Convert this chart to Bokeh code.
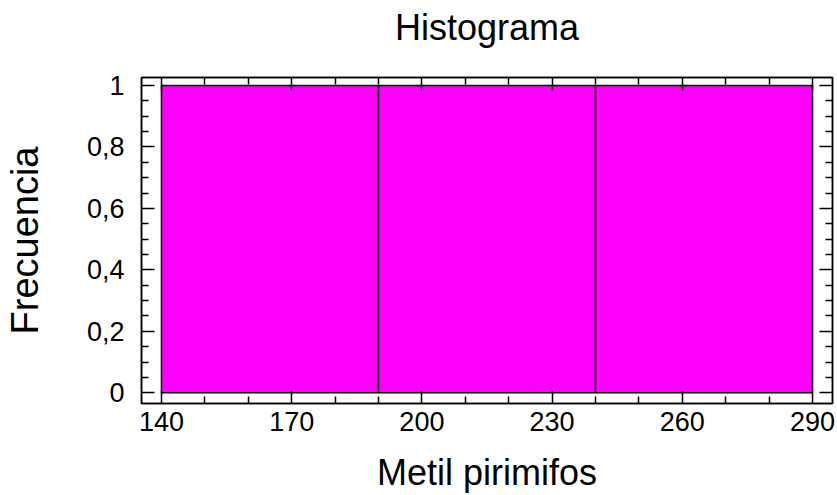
from bokeh.plotting import figure
from bokeh.models import Range1d, LinearAxis, FixedTicker, CustomJSTickFormatter
from bokeh.embed import file_html
from bokeh.resources import INLINE

# Data
bin_left = [140, 190, 240]
bin_right = [190, 240, 290]
counts = [1, 1, 1]

x_major = [140, 170, 200, 230, 260, 290]
x_minor = [150, 160, 180, 190, 210, 220, 240, 250, 270, 280]
y_major = [0, 0.2, 0.4, 0.6, 0.8, 1.0]
y_minor = [0.05, 0.1, 0.15, 0.25, 0.3, 0.35, 0.45, 0.5, 0.55, 0.65, 0.7, 0.75, 0.85, 0.9, 0.95]

TITLE = "Histograma"
FONT = "Liberation Sans"

p = figure(width=837, height=495, output_backend="svg", toolbar_location=None,
           x_range=Range1d(135.4, 294.6), y_range=Range1d(-0.035, 1.026),
           min_border_left=140, min_border_right=5, min_border_top=77, min_border_bottom=90,
           x_axis_location=None, y_axis_location=None)
p.grid.visible = False
p.outline_line_color = "black"
p.outline_line_width = 1.5
p.background_fill_color = "white"
p.border_fill_color = "white"

p.quad(left=bin_left, right=bin_right, top=counts, bottom=[0] * len(counts),
       fill_color="#FF00FF", line_color="black", line_width=1.5)

fmt_y = CustomJSTickFormatter(code="var s = (Math.round(tick*10)/10).toString(); return s.replace('.', ',');")
blank = CustomJSTickFormatter(code="return '';")

def style(ax):
    ax.axis_line_color = "black"
    ax.axis_line_width = 1.5
    ax.major_tick_line_color = "black"
    ax.major_tick_line_width = 1.5
    ax.minor_tick_line_color = "black"
    ax.minor_tick_line_width = 1.5
    ax.major_tick_in = 13
    ax.major_tick_out = 0
    ax.minor_tick_in = 7
    ax.minor_tick_out = 0
    ax.major_label_text_font = FONT
    ax.major_label_text_font_size = "27px"
    ax.major_label_text_color = "black"
    ax.axis_label_text_font = FONT
    ax.axis_label_text_font_size = "36px"
    ax.axis_label_text_font_style = "normal"
    ax.axis_label_text_color = "black"

xt = FixedTicker(ticks=x_major, minor_ticks=x_minor)
yt = FixedTicker(ticks=y_major, minor_ticks=y_minor)

xb = LinearAxis(ticker=xt, axis_label="Metil pirimifos")
style(xb)
xb.major_label_standoff = 8
xb.axis_label_standoff = 18
p.add_layout(xb, "below")

# top axis carries the chart title as its label
xa = LinearAxis(ticker=xt, formatter=blank, axis_label=TITLE)
style(xa)
xa.major_label_text_font_size = "0px"
xa.major_label_standoff = 0
xa.axis_label_standoff = 30
p.add_layout(xa, "above")

yl = LinearAxis(ticker=yt, formatter=fmt_y, axis_label="Frecuencia")
style(yl)
yl.axis_label_text_font_size = "38px"
yl.major_label_standoff = 17
yl.axis_label_standoff = 38
p.add_layout(yl, "left")

yr = LinearAxis(ticker=yt, formatter=blank)
style(yr)
yr.major_label_text_font_size = "0px"
yr.major_label_standoff = 0
p.add_layout(yr, "right")

open("out.html", "w").write(file_html(p, INLINE))
